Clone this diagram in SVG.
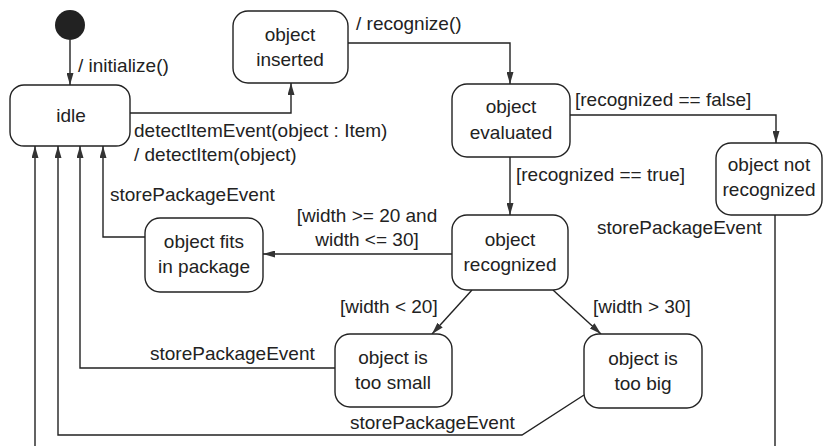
<svg xmlns="http://www.w3.org/2000/svg" width="824" height="446" viewBox="0 0 824 446">
<style>
.st{fill:#fff;stroke:#222;stroke-width:1.4}
.t{font-family:"Liberation Sans",Arial,sans-serif;font-size:19px;fill:#222}
.c{text-anchor:middle}
.ln{fill:none;stroke:#222;stroke-width:1.4}
</style>
<defs>
<marker id="ah" viewBox="0 0 12 7" refX="12" refY="3.5" markerWidth="12" markerHeight="7" markerUnits="userSpaceOnUse" orient="auto">
<path d="M0,0 L12,3.5 L0,7 Z" fill="#333"/>
</marker>
</defs>
<rect width="824" height="446" fill="#fff"/>
<g id="connectors">
<path class="ln" d="M70,40 V85" marker-end="url(#ah)"/>
<path class="ln" d="M130,113 H291 V83" marker-end="url(#ah)"/>
<path class="ln" d="M348,43 H510 V84" marker-end="url(#ah)"/>
<path class="ln" d="M570,115 H776 V143" marker-end="url(#ah)"/>
<path class="ln" d="M510,157 V215" marker-end="url(#ah)"/>
<path class="ln" d="M452,254 H263" marker-end="url(#ah)"/>
<path class="ln" d="M145,237 H103 V146" marker-end="url(#ah)"/>
<path class="ln" d="M472,290 L432,334" marker-end="url(#ah)"/>
<path class="ln" d="M553,290 L601,334" marker-end="url(#ah)"/>
<path class="ln" d="M335,368 H80 V146" marker-end="url(#ah)"/>
<path class="ln" d="M584,395 L522,435 H58 V146" marker-end="url(#ah)"/>
<path class="ln" d="M775,215 V446 M35,446 V146" marker-end="url(#ah)"/>
<text class="t" x="78" y="72">/ initialize()</text>
<text class="t" x="356" y="30">/ recognize()</text>
<text class="t" x="134" y="137">detectItemEvent(object : Item)</text>
<text class="t" x="134" y="161">/ detectItem(object)</text>
<text class="t" x="575" y="106">[recognized == false]</text>
<text class="t" x="516" y="181">[recognized == true]</text>
<text class="t" x="597" y="234">storePackageEvent</text>
<text class="t" x="110" y="201">storePackageEvent</text>
<text class="t c" x="367" y="222">[width &gt;= 20 and</text>
<text class="t c" x="367" y="246">width &lt;= 30]</text>
<text class="t" x="340" y="313">[width &lt; 20]</text>
<text class="t" x="593" y="313">[width &gt; 30]</text>
<text class="t" x="150" y="360">storePackageEvent</text>
<text class="t" x="350" y="429">storePackageEvent</text>
</g>
<g id="initial"><circle cx="70" cy="25" r="15" fill="#222"/></g>
<g id="idle"><rect class="st" x="10" y="85" width="120" height="61" rx="14"/><text class="t c" x="71" y="122">idle</text></g>
<g id="inserted"><rect class="st" x="233" y="11" width="115" height="72" rx="15"/><text class="t c" x="290" y="41">object</text><text class="t c" x="290" y="66">inserted</text></g>
<g id="evaluated"><rect class="st" x="452" y="84" width="118" height="73" rx="15"/><text class="t c" x="511" y="113">object</text><text class="t c" x="511" y="139">evaluated</text></g>
<g id="notrecognized"><rect class="st" x="716" y="143" width="106" height="72" rx="15"/><text class="t c" x="769" y="171">object not</text><text class="t c" x="769" y="196">recognized</text></g>
<g id="recognized"><rect class="st" x="452" y="215" width="116" height="75" rx="15"/><text class="t c" x="510" y="246">object</text><text class="t c" x="510" y="271">recognized</text></g>
<g id="fits"><rect class="st" x="145" y="218" width="118" height="74" rx="15"/><text class="t c" x="204" y="248">object fits</text><text class="t c" x="204" y="273">in package</text></g>
<g id="toosmall"><rect class="st" x="335" y="334" width="117" height="73" rx="15"/><text class="t c" x="393" y="364">object is</text><text class="t c" x="393" y="389">too small</text></g>
<g id="toobig"><rect class="st" x="584" y="334" width="118" height="74" rx="15"/><text class="t c" x="643" y="365">object is</text><text class="t c" x="643" y="390">too big</text></g>
</svg>
